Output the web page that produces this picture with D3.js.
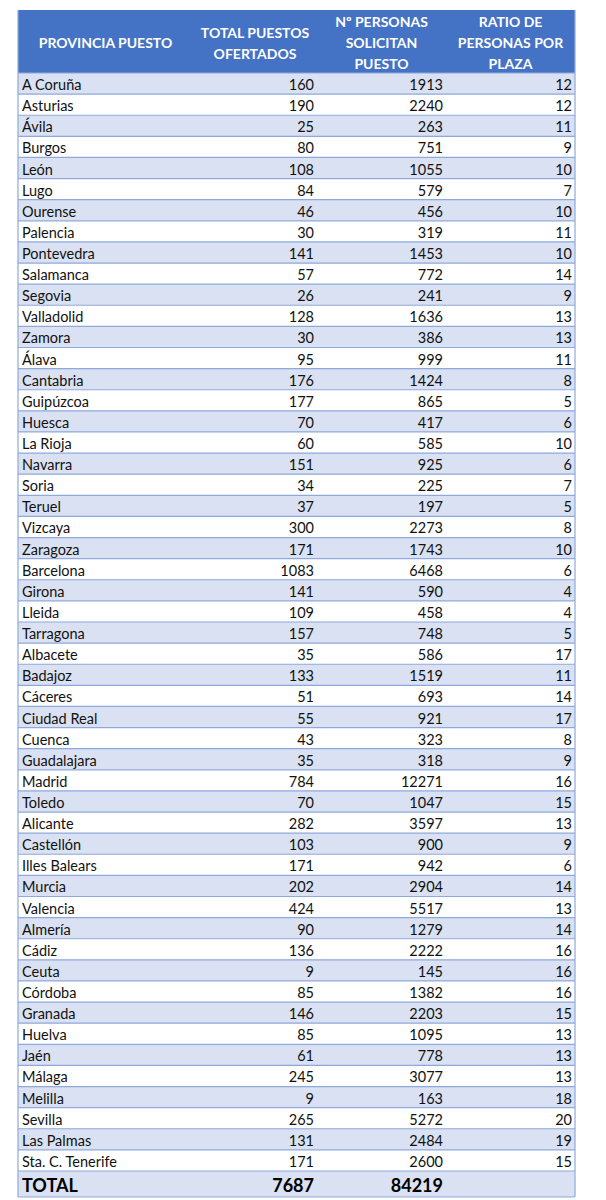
<!DOCTYPE html>
<html>
<head>
<meta charset="utf-8">
<script src="https://cdn.jsdelivr.net/npm/d3@7"></script>
<style>
  html, body { margin: 0; padding: 0; background: #fff; }
  svg { display: block; font-family: Lato, "Noto Sans", sans-serif; }
</style>
</head>
<body>
<svg id="chart-container" width="606" height="1200"></svg>
<script>
// Column headers (each entry = lines of the header cell)
var headers = [
    ["PROVINCIA PUESTO"],
    ["TOTAL PUESTOS", "OFERTADOS"],
    ["Nº PERSONAS", "SOLICITAN", "PUESTO"],
    ["RATIO DE", "PERSONAS POR", "PLAZA"]
];

var provincias = ["A Coruña", "Asturias", "Ávila", "Burgos", "León", "Lugo", "Ourense", "Palencia",
    "Pontevedra", "Salamanca", "Segovia", "Valladolid", "Zamora", "Álava", "Cantabria", "Guipúzcoa",
    "Huesca", "La Rioja", "Navarra", "Soria", "Teruel", "Vizcaya", "Zaragoza", "Barcelona", "Girona",
    "Lleida", "Tarragona", "Albacete", "Badajoz", "Cáceres", "Ciudad Real", "Cuenca", "Guadalajara",
    "Madrid", "Toledo", "Alicante", "Castellón", "Illes Balears", "Murcia", "Valencia", "Almería",
    "Cádiz", "Ceuta", "Córdoba", "Granada", "Huelva", "Jaén", "Málaga", "Melilla", "Sevilla",
    "Las Palmas", "Sta. C. Tenerife"];

var puestos = [160, 190, 25, 80, 108, 84, 46, 30, 141, 57, 26, 128, 30, 95, 176, 177,
    70, 60, 151, 34, 37, 300, 171, 1083, 141, 109, 157, 35, 133, 51, 55, 43, 35,
    784, 70, 282, 103, 171, 202, 424, 90, 136, 9, 85, 146, 85, 61, 245, 9, 265, 131, 171];

var solicitantes = [1913, 2240, 263, 751, 1055, 579, 456, 319, 1453, 772, 241, 1636, 386, 999, 1424, 865,
    417, 585, 925, 225, 197, 2273, 1743, 6468, 590, 458, 748, 586, 1519, 693, 921, 323, 318,
    12271, 1047, 3597, 900, 942, 2904, 5517, 1279, 2222, 145, 1382, 2203, 1095, 778, 3077, 163, 5272, 2484, 2600];

var ratio = [12, 12, 11, 9, 10, 7, 10, 11, 10, 14, 9, 13, 13, 11, 8, 5,
    6, 10, 6, 7, 5, 8, 10, 6, 4, 4, 5, 17, 11, 14, 17, 8, 9,
    16, 15, 13, 9, 6, 14, 13, 14, 16, 16, 16, 15, 13, 13, 13, 18, 20, 19, 15];

var totales = ["TOTAL", 7687, 84219, ""];

var rows = provincias.map((p, i) => ({ name: p, values: [p, puestos[i], solicitantes[i], ratio[i]] }));

// Layout
var left = 18, right = 575;
var headerTop = 10, headerBottom = 73, bodyBottom = 1171, totalBottom = 1197;
var colEdges = [left, 193, 317, 446, right];
var colors = { header: "#4472C4", band: "#D9E1F2", line: "#8EA9DB", text: "#111" };

var svg = d3.select("#chart-container");

var y = d3.scaleBand()
    .domain(provincias)
    .range([headerBottom, bodyBottom]);

// Header
svg.append("rect")
    .attr("x", left).attr("y", headerTop)
    .attr("width", right - left).attr("height", headerBottom - headerTop)
    .attr("fill", colors.header);

var lineH = 21;
var headerMid = (headerTop + headerBottom) / 2 + 1;
svg.append("g").selectAll("text")
    .data(headers)
    .join("text")
        .attr("x", (d, i) => (colEdges[i] + colEdges[i + 1]) / 2)
        .attr("text-anchor", "middle")
        .attr("fill", "#fff")
        .attr("font-weight", "bold")
        .attr("font-size", 14)
    .each(function(lines) {
        var t = d3.select(this);
        var y0 = headerMid - (lines.length - 1) * lineH / 2;
        lines.forEach((l, k) => {
            t.append("tspan")
                .attr("x", t.attr("x"))
                .attr("y", y0 + k * lineH)
                .attr("dominant-baseline", "central")
                .text(l);
        });
    });

// Body rows
var body = svg.append("g");
var rowG = body.selectAll("g")
    .data(rows)
    .join("g")
        .attr("transform", d => `translate(0, ${y(d.name)})`);

rowG.append("rect")
    .attr("x", left)
    .attr("width", right - left)
    .attr("height", y.bandwidth())
    .attr("fill", (d, i) => i % 2 ? "#fff" : colors.band);

rowG.selectAll("text")
    .data(d => d.values)
    .join("text")
        .attr("x", (d, i) => i === 0 ? colEdges[0] + 4 : colEdges[i + 1] - 3)
        .attr("y", y.bandwidth() / 2 + 1)
        .attr("dominant-baseline", "central")
        .attr("text-anchor", (d, i) => i === 0 ? "start" : "end")
        .attr("font-size", 14.5)
        .attr("fill", colors.text)
        .text(d => d);

// Total row
svg.append("rect")
    .attr("x", left).attr("y", bodyBottom)
    .attr("width", right - left).attr("height", totalBottom - bodyBottom)
    .attr("fill", colors.band);

svg.append("g").selectAll("text")
    .data(totales)
    .join("text")
        .attr("x", (d, i) => i === 0 ? colEdges[0] + 4 : colEdges[i + 1] - 3)
        .attr("y", (bodyBottom + totalBottom) / 2 + 1)
        .attr("dominant-baseline", "central")
        .attr("text-anchor", (d, i) => i === 0 ? "start" : "end")
        .attr("font-size", 18)
        .attr("font-weight", "bold")
        .attr("fill", "#000")
        .text(d => d);

// Horizontal rules between rows
var ruleYs = provincias.map(p => y(p)).concat([bodyBottom, totalBottom]);
svg.append("g")
    .attr("stroke", colors.line)
    .attr("stroke-width", 1.2)
    .selectAll("line")
    .data(ruleYs)
    .join("line")
        .attr("x1", left).attr("x2", right)
        .attr("y1", d => d).attr("y2", d => d);

// Outer side borders
svg.append("g")
    .attr("stroke", colors.line)
    .attr("stroke-width", 1.2)
    .selectAll("line")
    .data([left, right])
    .join("line")
        .attr("x1", d => d).attr("x2", d => d)
        .attr("y1", headerTop).attr("y2", totalBottom);
</script>
</body>
</html>
